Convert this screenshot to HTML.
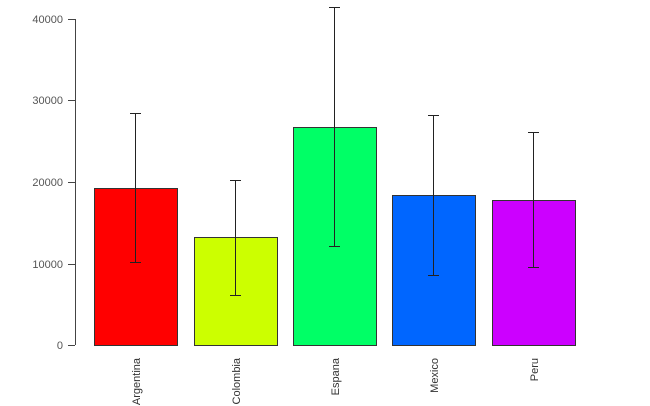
<!DOCTYPE html><html><head><style>body{margin:0;background:#fff}svg{display:block}</style></head><body>
<svg width="650" height="406" xmlns="http://www.w3.org/2000/svg" font-family="Liberation Sans, sans-serif" font-size="11">
<g stroke="#444" stroke-width="1">
<line x1="75.5" y1="19" x2="75.5" y2="345"/>
<line x1="68" y1="19.5" x2="75" y2="19.5"/>
<line x1="68" y1="100.5" x2="75" y2="100.5"/>
<line x1="68" y1="182.5" x2="75" y2="182.5"/>
<line x1="68" y1="264.5" x2="75" y2="264.5"/>
<line x1="68" y1="345.5" x2="75" y2="345.5"/>
</g>
<g fill="#555" text-anchor="end">
<text x="63" y="23">40000</text><text x="63" y="104">30000</text><text x="63" y="186">20000</text><text x="63" y="268">10000</text><text x="63" y="349">0</text>
</g>
<g stroke="#333" stroke-width="1">
<rect x="94.5" y="188.5" width="83" height="157" fill="#ff0000"/>
<rect x="194.5" y="237.5" width="83" height="108" fill="#ccff00"/>
<rect x="293.5" y="127.5" width="83" height="218" fill="#00ff66"/>
<rect x="392.5" y="195.5" width="83" height="150" fill="#0066ff"/>
<rect x="492.5" y="200.5" width="83" height="145" fill="#cc00ff"/>
</g>
<g stroke="#222" stroke-width="1" fill="none">
<path d="M135.5 113V262M130 113.5H141M130 262.5H141"/>
<path d="M235.5 180V295M230 180.5H241M230 295.5H241"/>
<path d="M334.5 7V246M329 7.5H340M329 246.5H340"/>
<path d="M433.5 115V275M428 115.5H439M428 275.5H439"/>
<path d="M533.5 132V267M528 132.5H539M528 267.5H539"/>
</g>
<g fill="#333" text-anchor="end">
<text transform="translate(140,358) rotate(-90)">Argentina</text>
<text transform="translate(240,358) rotate(-90)">Colombia</text>
<text transform="translate(339,358) rotate(-90)">Espana</text>
<text transform="translate(438,358) rotate(-90)">Mexico</text>
<text transform="translate(538,358) rotate(-90)">Peru</text>
</g>
</svg></body></html>
